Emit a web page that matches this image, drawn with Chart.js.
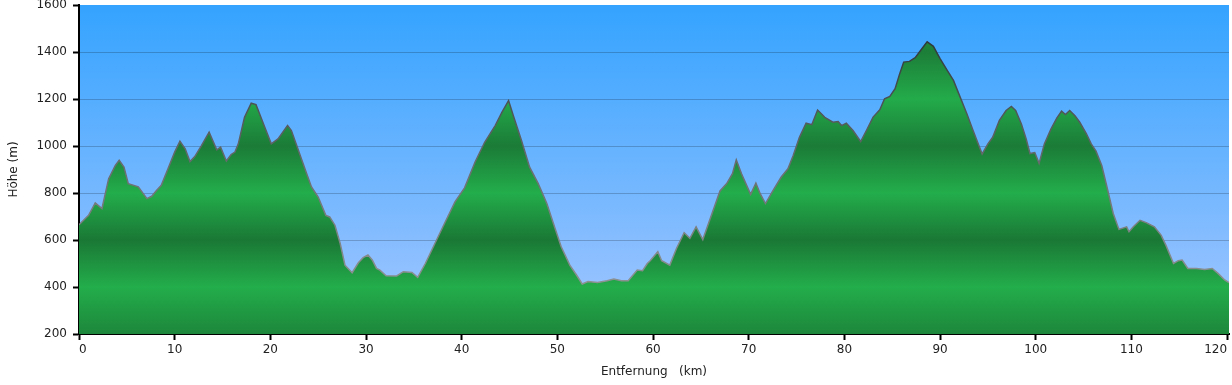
<!DOCTYPE html>
<html>
<head>
<meta charset="utf-8">
<script src="https://cdn.jsdelivr.net/npm/chart.js"></script>
<style>
  html, body { margin: 0; padding: 0; background: #fff; }
  #wrap { width: 1232px; height: 385px; }
</style>
</head>
<body>
<div id="wrap"><canvas id="profil"></canvas></div>
<script>
var distances = [0, 0.5, 1.0, 1.7, 2.4, 3.1, 3.8, 4.2, 4.7, 5.15, 6.2, 7.1, 7.6, 8.1, 8.6, 9.3, 10.0, 10.55, 11.1, 11.6,
  12.1, 12.8, 13.6, 14.4, 14.8, 15.4, 15.9, 16.3, 16.65, 17.3, 18.0, 18.5, 19.4, 20.1, 20.8, 21.8, 22.2, 22.7, 23.3, 23.8,
  24.3, 25.0, 25.8, 26.2, 26.75, 27.3, 27.8, 28.55, 29.2, 29.7, 30.2, 30.65, 31.1, 31.45, 32.1, 33.2, 33.9, 34.8, 35.4, 36.2,
  37.2, 38.2, 39.3, 40.3, 41.4, 42.4, 43.5, 44.2, 44.9, 45.4, 46.25, 47.1, 48.0, 48.9, 49.7, 50.4, 51.3, 52.0, 52.6, 53.2,
  54.2, 55.2, 55.9, 56.7, 57.4, 58.35, 58.9, 59.4, 59.7, 60.5, 60.9, 61.75, 62.45, 63.25, 63.85, 64.5, 65.2, 66.1, 67.0, 67.7,
  68.3, 68.7, 69.25, 70.2, 70.75, 71.2, 71.75, 72.55, 73.4, 74.1, 74.65, 75.3, 76.0, 76.6, 77.2, 77.95, 78.8, 79.35, 79.7, 80.2,
  80.9, 81.7, 82.3, 83.0, 83.7, 84.2, 84.75, 85.3, 85.8, 86.2, 86.8, 87.4, 88.1, 88.65, 89.3, 90.0, 90.7, 91.4, 92.1, 92.8,
  93.45, 94.4, 95.0, 95.5, 96.2, 96.9, 97.45, 97.9, 98.5, 99.0, 99.4, 99.9, 100.35, 100.9, 101.6, 102.2, 102.7, 103.1, 103.55, 104.1,
  104.6, 105.3, 105.8, 106.3, 106.9, 107.4, 108.1, 108.7, 109.5, 109.75, 110.2, 110.9, 111.6, 112.4, 113.1, 113.6, 114.4, 114.9, 115.3, 115.9,
  116.8, 117.65, 118.45, 119.05, 119.75, 120.2];
var elevations = [665, 685, 705, 758, 734, 861, 917, 939, 910, 840, 826, 776, 786, 811, 833, 903, 974, 1020, 988, 934,
  955, 1002, 1059, 984, 995, 936, 964, 974, 1009, 1122, 1182, 1176, 1082, 1009, 1030, 1087, 1066, 1009, 939, 882,
  826, 783, 705, 698, 663, 585, 493, 461, 503, 525, 536, 515, 479, 472, 448, 447, 465, 462, 441, 500,
  585, 670, 762, 822, 932, 1016, 1087, 1143, 1193, 1129, 1023, 910, 840, 755, 656, 571, 493, 451, 413, 423,
  419, 427, 434, 427, 427, 472, 469, 500, 512, 550, 512, 493, 564, 631, 607, 656, 602, 705, 809, 840,
  882, 941, 882, 794, 842, 797, 755, 811, 868, 903, 960, 1037, 1097, 1091, 1153, 1122, 1101, 1104, 1087, 1097,
  1066, 1019, 1066, 1123, 1154, 1201, 1211, 1244, 1310, 1357, 1360, 1376, 1414, 1443, 1424, 1372, 1325, 1279, 1208, 1137,
  1066, 966, 1009, 1037, 1109, 1151, 1168, 1151, 1094, 1030, 968, 972, 926, 1009, 1073, 1119, 1148, 1134, 1151, 1129,
  1101, 1052, 1009, 978, 917, 833, 713, 645, 656, 635, 656, 684, 673, 656, 621, 578, 500, 512, 515, 479,
  479, 475, 479, 458, 430, 419];

var xLabel = 'Entfernung   (km)';
var yLabel = 'Höhe (m)';

var points = distances.map(function (d, i) { return {x: d, y: elevations[i]}; });

// Grüne Füllung mit Querbändern
function fillGradient(ctx) {
  var chart = ctx.chart, area = chart.chartArea;
  if (!area) return '#22aa4a';
  var y = chart.scales.y;
  var h = area.bottom - area.top;
  var g = chart.ctx.createLinearGradient(0, area.bottom, 0, area.top);
  var stops = {200: '#1d873b', 400: '#23ad4b', 600: '#1a7835', 800: '#23ad4b', 1000: '#1b7b37', 1200: '#23ab4a', 1400: '#1c7e38', 1600: '#22a848'};
  Object.keys(stops).forEach(function (v) {
    var p = (area.bottom - y.getPixelForValue(+v)) / h;
    g.addColorStop(Math.min(1, Math.max(0, p)), stops[v]);
  });
  return g;
}

function lineGradient(ctx) {
  var chart = ctx.chart, area = chart.chartArea;
  if (!area) return '#666';
  var g = chart.ctx.createLinearGradient(0, area.bottom, 0, area.top);
  g.addColorStop(0, '#9aa0a0');
  g.addColorStop(0.5, '#6a6e70');
  g.addColorStop(1, '#1e2a2a');
  return g;
}

var skyPlugin = {
  id: 'sky',
  beforeDraw: function (chart) {
    var c = chart.ctx, a = chart.chartArea;
    var g = c.createLinearGradient(0, a.top, 0, a.bottom);
    g.addColorStop(0, '#34a3ff');
    g.addColorStop(1, '#a6c7ff');
    c.save();
    c.fillStyle = g;
    c.fillRect(a.left, a.top, a.right - a.left, a.bottom - a.top);
    c.restore();
  }
};

var font = {family: 'DejaVu Sans', size: 12};
var plain = function (v) { return String(v); };

var profil = new Chart(document.getElementById('profil'), {
  type: 'line',
  data: {
    datasets: [{
      data: points,
      fill: 'start',
      backgroundColor: fillGradient,
      borderColor: lineGradient,
      borderWidth: 1.5,
      pointRadius: 0,
      tension: 0
    }]
  },
  options: {
    responsive: true,
    maintainAspectRatio: false,
    animation: false,
    events: [],
    layout: {padding: {top: 5, right: 3, left: 0, bottom: 0}},
    plugins: {legend: {display: false}, tooltip: {enabled: false}},
    scales: {
      x: {
        type: 'linear',
        min: 0,
        max: 120.2,
        border: {color: '#000', width: 2},
        grid: {drawOnChartArea: false, drawTicks: true, tickLength: 6, tickColor: '#000', tickWidth: 2},
        ticks: {stepSize: 10, includeBounds: false, align: 'inner', color: '#222', font: font, padding: 3, maxRotation: 0, callback: plain},
        title: {display: true, text: xLabel, color: '#222', font: font, padding: {top: 4, bottom: 6}},
        afterFit: function (s) { s.height = 51; s.paddingLeft = 0; s.paddingRight = 0; }
      },
      y: {
        min: 200,
        max: 1600,
        z: 1,
        border: {color: '#000', width: 2},
        grid: {
          color: function (c) { return c.tick && (c.tick.value === 1600 || c.tick.value === 200) ? 'rgba(0,0,0,0)' : 'rgba(0,0,0,0.2)'; },
          lineWidth: 1, tickLength: 6, tickColor: '#000', tickWidth: 2
        },
        ticks: {stepSize: 200, color: '#222', font: font, padding: 6, callback: plain},
        title: {display: true, text: yLabel, color: '#222', font: font, padding: {top: 7, bottom: 4}},
        afterFit: function (s) { s.width = 79; s.paddingTop = 0; s.paddingBottom = 0; }
      }
    }
  },
  plugins: [skyPlugin]
});
</script>
</body>
</html>
